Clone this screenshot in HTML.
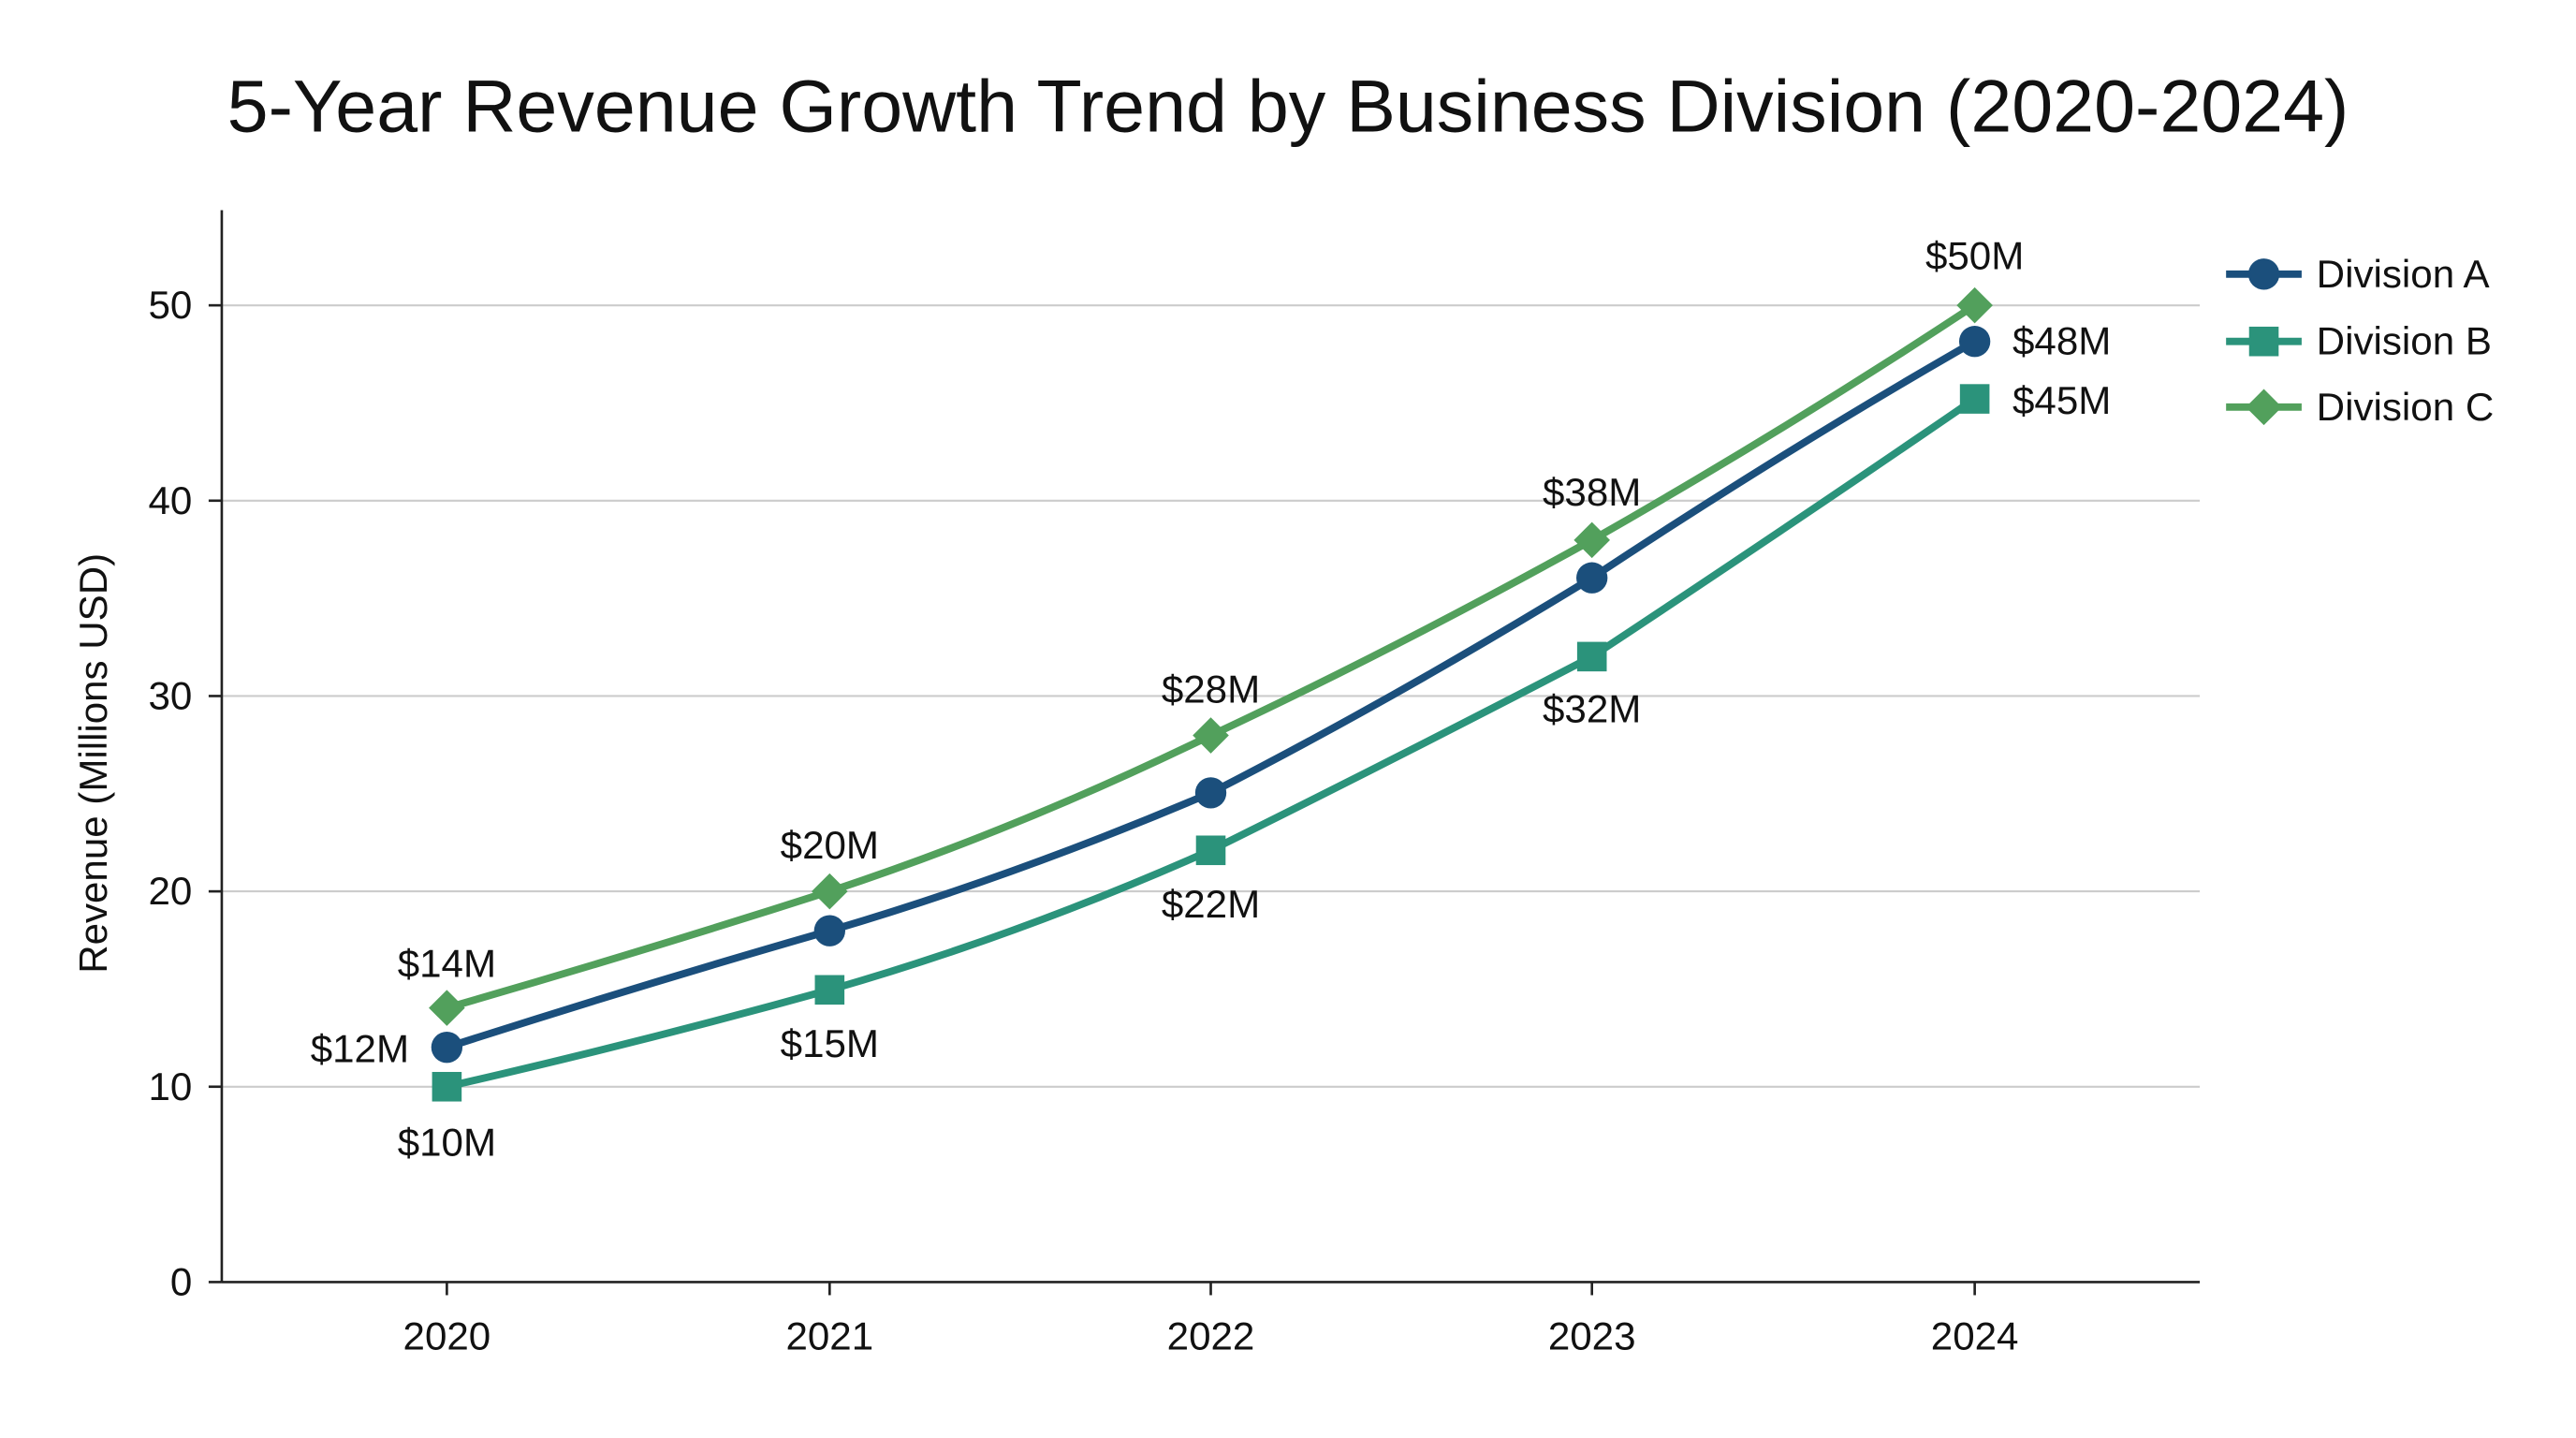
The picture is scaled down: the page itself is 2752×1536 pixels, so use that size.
<!DOCTYPE html>
<html><head><meta charset="utf-8"><style>
html,body{margin:0;padding:0;background:#fff;}
svg{display:block;}
text{font-family:"Liberation Sans","DejaVu Sans",sans-serif;fill:#111;}
</style></head><body>
<svg width="2752" height="1536" viewBox="0 0 1568 876" preserveAspectRatio="none" xmlns="http://www.w3.org/2000/svg">
<rect width="1568" height="876" fill="#fff"/>
<text x="784" y="80" font-size="45" text-anchor="middle">5-Year Revenue Growth Trend by Business Division (2020-2024)</text>
<g stroke="#cccccc" stroke-width="1.2">
<line x1="135" y1="186" x2="1339" y2="186"/>
<line x1="135" y1="305" x2="1339" y2="305"/>
<line x1="135" y1="424" x2="1339" y2="424"/>
<line x1="135" y1="543" x2="1339" y2="543"/>
<line x1="135" y1="662" x2="1339" y2="662"/>
</g>
<g stroke="#222" stroke-width="1.5">
<line x1="135" y1="128" x2="135" y2="781"/>
<line x1="135" y1="781" x2="1339" y2="781"/>
<line x1="127" y1="186" x2="135" y2="186"/><line x1="127" y1="305" x2="135" y2="305"/>
<line x1="127" y1="424" x2="135" y2="424"/><line x1="127" y1="543" x2="135" y2="543"/>
<line x1="127" y1="662" x2="135" y2="662"/><line x1="127" y1="781" x2="135" y2="781"/>
<line x1="272" y1="781" x2="272" y2="789"/><line x1="505" y1="781" x2="505" y2="789"/>
<line x1="737" y1="781" x2="737" y2="789"/><line x1="969" y1="781" x2="969" y2="789"/>
<line x1="1202" y1="781" x2="1202" y2="789"/>
</g>
<g font-size="24" text-anchor="end">
<text x="117" y="194">50</text><text x="117" y="313">40</text><text x="117" y="432">30</text>
<text x="117" y="551">20</text><text x="117" y="670">10</text><text x="117" y="789">0</text>
</g>
<g font-size="24" text-anchor="middle">
<text x="272" y="822">2020</text><text x="505" y="822">2021</text><text x="737" y="822">2022</text>
<text x="969" y="822">2023</text><text x="1202" y="822">2024</text>
</g>
<text transform="translate(65,465) rotate(-90)" font-size="24" text-anchor="middle">Revenue (Millions USD)</text>
<g fill="none" stroke-width="4.5" stroke-linejoin="round">
<path d="M272,614 Q390,580 505,543 Q620,505 737,448 Q850,395 969,329 Q1090,260 1202,186" stroke="#52a05c"/>
<path d="M272,638 Q390,600 505,567 Q620,533 737,483 Q850,425 969,352 Q1090,272 1202,208" stroke="#1b4f7c"/>
<path d="M272,662 Q390,635 505,603 Q620,570 737,518 Q850,462 969,400 Q1090,320 1202,243" stroke="#2b937b"/>
</g>
<g fill="#52a05c">
<polygon points="272,603 283,614 272,625 261,614"/><polygon points="505,532 516,543 505,554 494,543"/>
<polygon points="737,437 748,448 737,459 726,448"/><polygon points="969,318 980,329 969,340 958,329"/>
<polygon points="1202,175 1213,186 1202,197 1191,186"/>
</g>
<g fill="#1b4f7c">
<circle cx="272" cy="638" r="9.5"/><circle cx="505" cy="567" r="9.5"/><circle cx="737" cy="483" r="9.5"/>
<circle cx="969" cy="352" r="9.5"/><circle cx="1202" cy="208" r="9.5"/>
</g>
<g fill="#2b937b">
<rect x="263" y="653" width="18" height="18"/><rect x="496" y="594" width="18" height="18"/>
<rect x="728" y="509" width="18" height="18"/><rect x="960" y="391" width="18" height="18"/>
<rect x="1193" y="234" width="18" height="18"/>
</g>
<g font-size="24" text-anchor="middle">
<text x="272" y="595">$14M</text><text x="505" y="523">$20M</text><text x="737" y="428">$28M</text>
<text x="969" y="308">$38M</text><text x="1202" y="164">$50M</text>
<text x="272" y="704">$10M</text><text x="505" y="644">$15M</text><text x="737" y="559">$22M</text>
<text x="969" y="440">$32M</text>
<text x="219" y="647">$12M</text>
</g>
<g font-size="24">
<text x="1225" y="216">$48M</text><text x="1225" y="252">$45M</text>
</g>
<g stroke-width="4.5">
<line x1="1355" y1="167" x2="1401" y2="167" stroke="#1b4f7c"/>
<line x1="1355" y1="208" x2="1401" y2="208" stroke="#2b937b"/>
<line x1="1355" y1="248" x2="1401" y2="248" stroke="#52a05c"/>
</g>
<circle cx="1378" cy="167" r="9.5" fill="#1b4f7c"/>
<rect x="1369" y="199" width="18" height="18" fill="#2b937b"/>
<polygon points="1378,237 1389,248 1378,259 1367,248" fill="#52a05c"/>
<g font-size="24">
<text x="1410" y="175">Division A</text><text x="1410" y="216">Division B</text><text x="1410" y="256">Division C</text>
</g>
</svg>
</body></html>
